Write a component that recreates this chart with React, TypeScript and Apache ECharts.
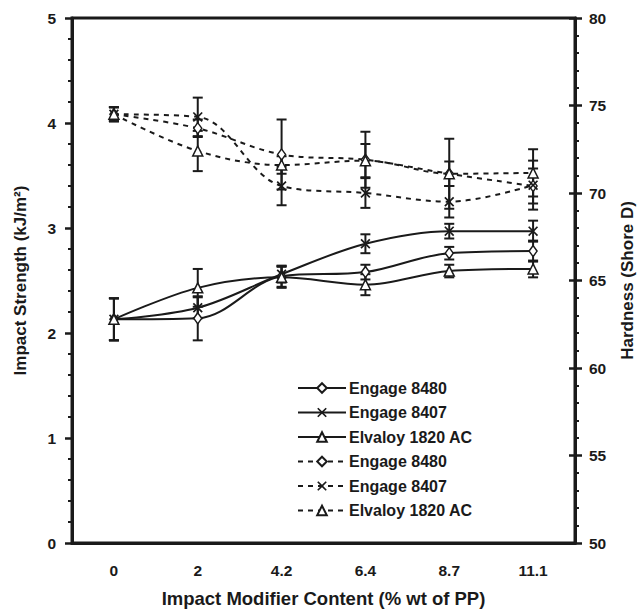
import React, { useEffect, useRef } from 'react';
import * as echarts from 'echarts';

const categories = ['0', '2', '4.2', '6.4', '8.7', '11.1'];

// Impact strength (kJ/m2), left axis
const impact8480 = [2.13, 2.14, 2.54, 2.58, 2.76, 2.78];
const impact8407 = [2.13, 2.24, 2.56, 2.85, 2.97, 2.97];
const impactElv = [2.13, 2.43, 2.53, 2.46, 2.59, 2.61];
const impact8480Err = [0.2, 0.21, 0.1, 0.07, 0.06, 0.1];
const impact8407Err = [0.2, 0.1, 0.08, 0.09, 0.07, 0.1];
const impactElvErr = [0.2, 0.18, 0.1, 0.1, 0.06, 0.08];

// Hardness (Shore D), right axis
const hard8480 = [74.5, 73.7, 72.2, 71.9, 71.1, 70.4];
const hard8407 = [74.5, 74.35, 70.4, 70.0, 69.5, 70.45];
const hardElv = [74.5, 72.4, 71.6, 71.85, 71.1, 71.15];
const hard8480Err = [0.4, 0.5, 2.0, 1.6, 2.0, 1.0];
const hard8407Err = [0.4, 1.1, 1.1, 0.85, 0.9, 1.4];
const hardElvErr = [0.4, 1.15, 0.5, 0.95, 0.7, 1.35];

const leftTicks = { min: 0, max: 5, interval: 1 };
const rightTicks = { min: 50, max: 80, interval: 5 };

const INK = '#1a1a1a';
const FONT = '"Liberation Sans", Arial, sans-serif';
const X_PATH =
  'path://M0,1.2 L1.2,0 L5,3.8 L8.8,0 L10,1.2 L6.2,5 L10,8.8 L8.8,10 L5,6.2 L1.2,10 L0,8.8 L3.8,5 Z';

const HSUF = ' (hardness)';

function lineSeries(name: string, data: number[], symbol: string, dashed: boolean, yAxisIndex: number) {
  const isX = symbol === X_PATH;
  return {
    type: 'line',
    name,
    data,
    yAxisIndex,
    smooth: 0.35,
    symbol,
    symbolSize: isX ? 10 : symbol === 'triangle' ? 10 : [8, 11],
    showSymbol: true,
    z: 3,
    lineStyle: { color: INK, width: 2, type: dashed ? [5, 5] : 'solid' },
    itemStyle: isX
      ? { color: INK, borderWidth: 0 }
      : { color: '#ffffff', borderColor: INK, borderWidth: 1.5 },
    emphasis: { disabled: true },
  };
}

function errorSeries(vals: number[], errs: number[], yAxisIndex: number) {
  return {
    type: 'custom',
    yAxisIndex,
    silent: true,
    z: 2,
    data: vals.map((v, i) => [i, v, errs[i]]),
    encode: { x: 0, y: 1 },
    renderItem: (_params: any, api: any) => {
      const i = api.value(0);
      const v = api.value(1);
      const e = api.value(2);
      const hi = api.coord([i, v + e]);
      const lo = api.coord([i, v - e]);
      const w = 5;
      const style = { stroke: INK, lineWidth: 2 };
      return {
        type: 'group',
        children: [
          { type: 'line', shape: { x1: hi[0], y1: hi[1], x2: lo[0], y2: lo[1] }, style },
          { type: 'line', shape: { x1: hi[0] - w, y1: hi[1], x2: hi[0] + w, y2: hi[1] }, style },
          { type: 'line', shape: { x1: lo[0] - w, y1: lo[1], x2: lo[0] + w, y2: lo[1] }, style },
        ],
      };
    },
  };
}

function yAxisBase(position: 'left' | 'right') {
  return {
    type: 'value',
    position,
    splitLine: { show: false },
    axisLine: { show: true, lineStyle: { color: INK, width: 3 } },
    axisTick: { show: true, inside: false, length: 7, lineStyle: { color: INK, width: 2.5 } },
    minorTick: { show: true, splitNumber: 5, length: 4, lineStyle: { color: INK, width: 2 } },
    axisLabel: { color: INK, fontFamily: FONT, fontWeight: 'bold', fontSize: 15.5, margin: position === 'left' ? 16 : 14 },
    nameLocation: 'middle',
    nameRotate: 90,
    nameTextStyle: { color: INK, fontFamily: FONT, fontWeight: 'bold', fontSize: 17 },
  };
}

export default function App() {
  const ref = useRef<HTMLDivElement>(null);
  useEffect(() => {
    document.body.style.margin = '0';
    if (!ref.current) return;
    const chart = echarts.init(ref.current, undefined, { renderer: 'svg' });
    const names = ['Engage 8480', 'Engage 8407', 'Elvaloy 1820 AC'];
    chart.setOption({
      animation: false,
      backgroundColor: '#ffffff',
      grid: { left: 72, right: 61, top: 18, bottom: 69, show: true, borderWidth: 3, borderColor: INK },
      legend: {
        orient: 'vertical',
        left: 292,
        top: 375,
        itemWidth: 48,
        itemHeight: 12,
        itemGap: 8.5,
        data: [...names, ...names.map((n) => n + HSUF)],
        formatter: (n: string) => n.replace(HSUF, ''),
        textStyle: { color: INK, fontFamily: FONT, fontWeight: 'bold', fontSize: 16, padding: [0, 0, 0, -2] },
        selectedMode: false,
      },
      xAxis: {
        type: 'category',
        data: categories,
        boundaryGap: true,
        axisLine: { show: true, lineStyle: { color: INK, width: 3 } },
        axisTick: { show: false },
        axisLabel: { color: INK, fontFamily: FONT, fontWeight: 'bold', fontSize: 15.5, margin: 19 },
        name: 'Impact Modifier Content (% wt of PP)',
        nameLocation: 'middle',
        nameGap: 46,
        nameTextStyle: { color: INK, fontFamily: FONT, fontWeight: 'bold', fontSize: 18.5 },
      },
      yAxis: [
        { ...yAxisBase('left'), ...leftTicks, name: 'Impact Strength (kJ/m²)', nameGap: 43 },
        { ...yAxisBase('right'), ...rightTicks, name: 'Hardness (Shore D)', nameGap: 44 },
        {
          type: 'value',
          position: 'right',
          ...rightTicks,
          splitLine: { show: false },
          axisLine: { show: false },
          axisLabel: { show: false },
          axisTick: { show: true, inside: true, length: 6, lineStyle: { color: INK, width: 2.5 } },
        },
      ],
      series: [
        errorSeries(impact8480, impact8480Err, 0),
        errorSeries(impact8407, impact8407Err, 0),
        errorSeries(impactElv, impactElvErr, 0),
        errorSeries(hard8480, hard8480Err, 1),
        errorSeries(hard8407, hard8407Err, 1),
        errorSeries(hardElv, hardElvErr, 1),
        lineSeries(names[0], impact8480, 'diamond', false, 0),
        lineSeries(names[1], impact8407, X_PATH, false, 0),
        lineSeries(names[2], impactElv, 'triangle', false, 0),
        lineSeries(names[0] + HSUF, hard8480, 'diamond', true, 1),
        lineSeries(names[1] + HSUF, hard8407, X_PATH, true, 1),
        lineSeries(names[2] + HSUF, hardElv, 'triangle', true, 1),
      ],
    });
    return () => chart.dispose();
  }, []);
  return <div ref={ref} style={{ width: 644, height: 613 }} />;
}
